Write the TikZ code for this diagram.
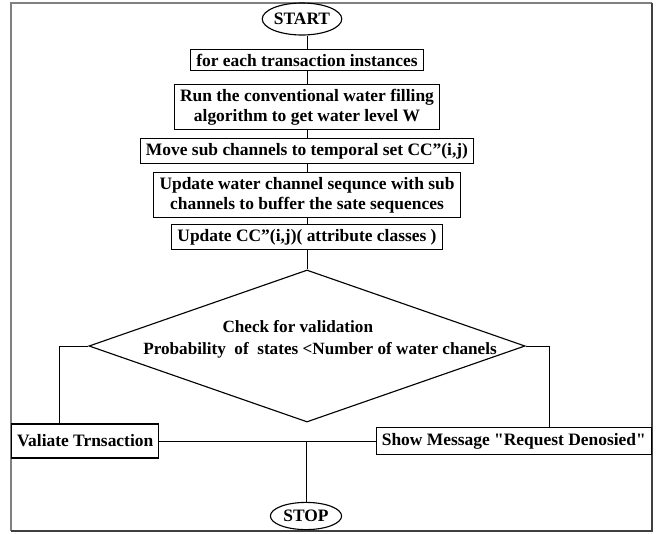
\documentclass[tikz,border=0pt]{standalone}
\usepackage{fontspec}
\setmainfont{Liberation Serif}
\usetikzlibrary{shapes.geometric}
\begin{document}
\begin{tikzpicture}[x=0.025cm,y=-0.025cm,
  txt/.style={font=\bfseries\fontsize{12.4}{14.5}\selectfont},
  box/.style={txt,draw,line width=0.8pt,inner xsep=4pt,inner ysep=3pt},
  term/.style={txt,draw,ellipse,line width=0.8pt,inner sep=0pt},
  dec/.style={draw,diamond,line width=0.8pt,inner sep=0pt,minimum width=10.9cm,minimum height=3.8cm},
  link/.style={line width=0.6pt}]
\useasboundingbox (0,0) rectangle (656,533);
\draw[gray,line width=1pt] (11,531) -- (11,3) -- (652,3);
\draw[black!75,line width=1pt] (652,3) -- (652,531) -- (11,531);

\node[term,minimum width=1.88cm,minimum height=0.8cm] (start) at (302,19) {START};
\node[box] (inst) at (307,60) {for each transaction instances};
\node[box,align=center] (wfill) at (307,107) {Run the conventional water filling\\algorithm to get water level W};
\node[box] (move) at (307,151) {Move sub channels to temporal set CC''(i,j)};
\node[box,align=center] (upd) at (307,195) {Update water channel sequnce with sub\\channels to buffer the sate sequences};
\node[box] (cls) at (307,237) {Update CC''(i,j)( attribute classes )};
\node[dec] (chk) at (307,346) {};
\node[txt,font=\bfseries\fontsize{12.2}{15.6}\selectfont,align=left,anchor=west,inner sep=0pt] (chktxt) at (143,339)
  {\hspace*{1.98cm}Check for validation\\Probability\ \ of\ \ states <Number of water chanels};
\node[box,anchor=west,minimum height=0.85cm] (val) at (11,441) {Valiate Trnsaction};
\node[box,anchor=east,minimum height=0.68cm] (msg) at (652,441) {Show Message \textquotedbl Request Denosied\textquotedbl};
\node[term,minimum width=1.78cm,minimum height=0.68cm] (stop) at (306,516) {STOP};

\coordinate (lk) at (59,346);
\coordinate (rk) at (549,346);
\coordinate (jn) at (306,441);

\draw[link] (start.south -| inst.north) -- (inst.north);
\draw[link] (inst) -- (wfill);
\draw[link] (wfill) -- (move);
\draw[link] (move) -- (upd);
\draw[link] (upd) -- (cls);
\draw[link] (cls) -- (chk.north);
\draw[link] (chk.west) -- (lk) -- (lk |- val.north);
\draw[link] (chk.east) -- (rk) -- (rk |- msg.north);
\draw[link] (val.east) -- (msg.west);
\draw[link] (jn) -- (stop.north);
\end{tikzpicture}
\end{document}
